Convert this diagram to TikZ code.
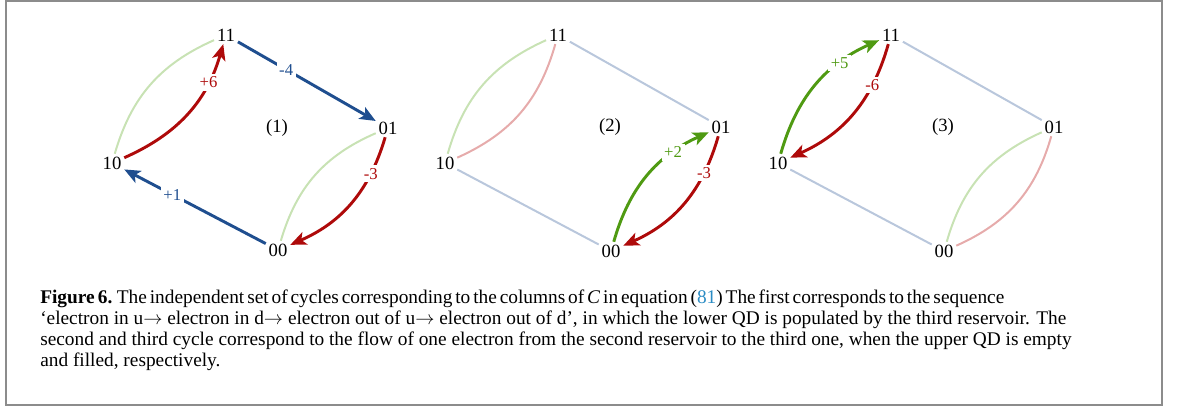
\documentclass[tikz,border=0pt]{standalone}
\usepackage{fontspec}
\setmainfont{Liberation Serif}
\usetikzlibrary{arrows.meta}
\definecolor{sblue}{HTML}{1F4E8F}
\definecolor{sred}{HTML}{AE0A0A}
\definecolor{sgreen}{HTML}{4F9A12}
\definecolor{fblue}{HTML}{B9C7DC}
\definecolor{fred}{HTML}{E6ABAB}
\definecolor{fgreen}{HTML}{C8E2B4}
\definecolor{framegray}{HTML}{8C8C8C}
\definecolor{linkblue}{HTML}{2B8CC4}
\tikzset{
  state/.style={font=\fontsize{14}{16}\selectfont, inner sep=2pt},
  cyclename/.style={font=\fontsize{14}{16}\selectfont, inner sep=0pt},
  faint/.style={line width=1.5pt},
  strong/.style={line width=2.2pt, -{Stealth[length=12pt,width=10pt,inset=3pt]}},
  elabel/.style={font=\fontsize{12.5}{14}\selectfont, fill=white, inner sep=2pt},
  capline/.style={anchor=base west, inner sep=0pt, font=\fontsize{14.5}{17}\selectfont},
}
\begin{document}
\begin{tikzpicture}[x=0.75pt,y=-0.75pt]
\useasboundingbox (0,0) rectangle (1179,412);
\draw[framegray, line width=1.5pt] (6,1) rectangle (1162,405);

% ---------- Diagram 1 ----------
\node[state] (a11) at (226,35) {11};
\node[state] (a01) at (388,128) {01};
\node[state] (a10) at (112,163) {10};
\node[state] (a00) at (278,250) {00};
\node[cyclename] (c1) at (277,128) {(1)};
\draw[faint, fgreen] (a10) to[bend left=25] (a11);
\draw[faint, fgreen] (a00) to[bend left=25] (a01);
\draw[strong, sblue] (a11) -- node[elabel, pos=0.35, text=sblue] {-4} (a01);
\draw[strong, sblue] (a00) -- node[elabel, pos=0.66, text=sblue] {+1} (a10);
\draw[strong, sred] (a10) to[bend right=25] node[elabel, pos=0.75, text=sred] {+6} (a11);
\draw[strong, sred] (a01) to[bend left=25] node[elabel, pos=0.25, text=sred] {-3} (a00);

% ---------- Diagram 2 ----------
\node[state] (b11) at (558,35) {11};
\node[state] (b01) at (721,127) {01};
\node[state] (b10) at (445,163) {10};
\node[state] (b00) at (611,251) {00};
\node[cyclename] (c2) at (610,127) {(2)};
\draw[faint, fgreen] (b10) to[bend left=25] (b11);
\draw[faint, fred] (b10) to[bend right=25] (b11);
\draw[faint, fblue] (b11) -- (b01);
\draw[faint, fblue] (b00) -- (b10);
\draw[strong, sgreen] (b00) to[bend left=25] node[elabel, pos=0.74, text=sgreen] {+2} (b01);
\draw[strong, sred] (b01) to[bend left=25] node[elabel, pos=0.25, text=sred] {-3} (b00);

% ---------- Diagram 3 ----------
\node[state] (d11) at (891,35) {11};
\node[state] (d01) at (1054,127) {01};
\node[state] (d10) at (778,163) {10};
\node[state] (d00) at (944,251) {00};
\node[cyclename] (c3) at (943,127) {(3)};
\draw[faint, fgreen] (d00) to[bend left=25] (d01);
\draw[faint, fred] (d00) to[bend right=25] (d01);
\draw[faint, fblue] (d11) -- (d01);
\draw[faint, fblue] (d00) -- (d10);
\draw[strong, sgreen] (d10) to[bend left=25] node[elabel, pos=0.72, text=sgreen] {+5} (d11);
\draw[strong, sred] (d11) to[bend left=25] node[elabel, pos=0.27, text=sred] {-6} (d10);

% ---------- Caption ----------
\node[capline] (cap1) at (40,303) {\spaceskip=0.15em\textbf{Figure\,6.} The independent set of cycles corresponding to the columns of \textit{C} in equation (\textcolor{linkblue}{81}) The first corresponds to the sequence};
\node[capline] (cap2) at (40,324) {`electron in u$\rightarrow$ electron in d$\rightarrow$ electron out of u$\rightarrow$ electron out of d', in which the lower QD is populated by the third reservoir. The};
\node[capline] (cap3) at (40,345) {second and third cycle correspond to the flow of one electron from the second reservoir to the third one, when the upper QD is empty};
\node[capline] (cap4) at (40,366) {and filled, respectively.};
\end{tikzpicture}
\end{document}
